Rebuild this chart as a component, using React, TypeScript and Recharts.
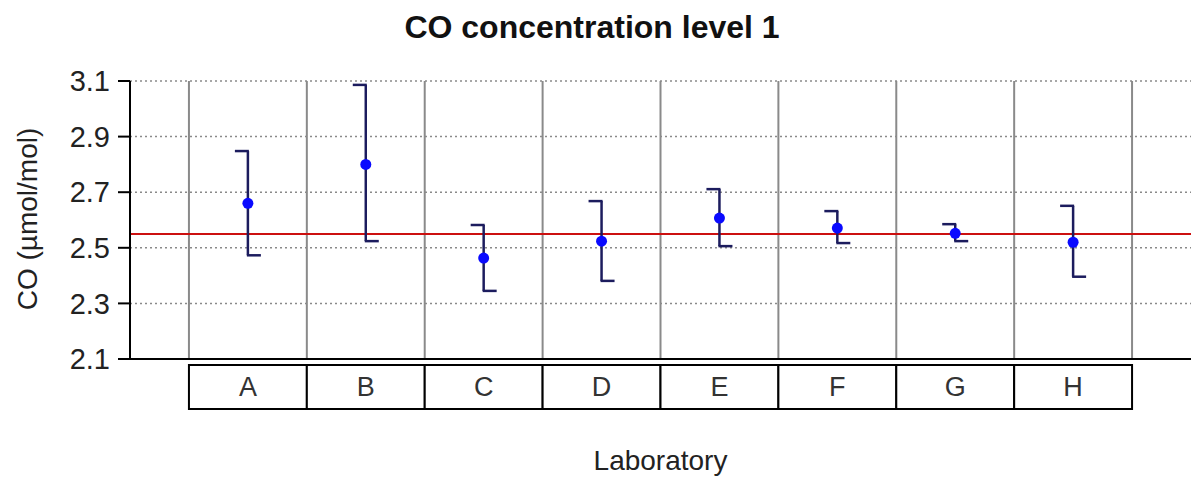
import React from 'react';
import { ComposedChart, Scatter, XAxis, YAxis, CartesianGrid, ReferenceLine, ErrorBar } from 'recharts';

// ---- data ----
const labs = ['A', 'B', 'C', 'D', 'E', 'F', 'G', 'H'];
const values = [2.66, 2.8, 2.463, 2.524, 2.607, 2.571, 2.552, 2.52];
const upper = [2.848, 3.086, 2.582, 2.668, 2.711, 2.632, 2.585, 2.651];
const lower = [2.473, 2.524, 2.345, 2.381, 2.506, 2.517, 2.524, 2.396];
const refValue = 2.55;
const yTicks = [2.1, 2.3, 2.5, 2.7, 2.9, 3.1];
const title = 'CO concentration level 1';
const xTitle = 'Laboratory';
const yTitle = 'CO (µmol/mol)';

// ---- layout ----
const W = 1191;
const H = 479;
const PLOT_LEFT = 130;
const X_MIN = 0;
const X_MAX = labs.length + 1;
const HALF = (W - PLOT_LEFT) / (X_MAX - X_MIN) / 2;
const FONT = '"Liberation Sans", Arial, sans-serif';

const xPositions = labs.map((_, i) => i + 1);
const dividers = labs.map((_, i) => i + 0.5).concat([labs.length + 0.5]);

const points = labs.map((lab, i) => ({
  x: i + 1,
  y: values[i],
  err: [values[i] - lower[i], upper[i] - values[i]],
  lab,
}));
const tops = labs.map((_, i) => ({ x: i + 1, y: upper[i] }));
const bottoms = labs.map((_, i) => ({ x: i + 1, y: lower[i] }));

const BAR_COLOR = '#1c1c5e';
const BAR_W = 2.5;

function BoxTick(props: any) {
  const { x, y, payload } = props;
  return (
    <g>
      <rect x={x - HALF} y={y + 6} width={2 * HALF} height={44} fill="#fff" stroke="#000" strokeWidth={2} />
      <text x={x} y={y + 28} textAnchor="middle" dominantBaseline="central" fontSize={27} fill="#333" fontFamily={FONT}>
        {labs[payload.value - 1]}
      </text>
    </g>
  );
}

const TopCap = (p: any) => (
  <line x1={p.cx - 13} x2={p.cx + 1} y1={p.cy} y2={p.cy} stroke={BAR_COLOR} strokeWidth={BAR_W} />
);
const BottomCap = (p: any) => (
  <line x1={p.cx - 1} x2={p.cx + 13} y1={p.cy} y2={p.cy} stroke={BAR_COLOR} strokeWidth={BAR_W} />
);
const Dot = (p: any) => <circle cx={p.cx} cy={p.cy} r={5.5} fill="#0a0aff" />;

export default function App() {
  return (
    <div style={{ position: 'absolute', left: 0, top: 0, width: W, height: H, background: '#fff', fontFamily: FONT }}>
      <div
        style={{
          position: 'absolute',
          left: 0,
          top: 11,
          width: 1184,
          textAlign: 'center',
          fontSize: 32,
          lineHeight: 1,
          fontWeight: 'bold',
          color: '#111',
        }}
      >
        {title}
      </div>
      <div
        style={{
          position: 'absolute',
          left: PLOT_LEFT,
          width: W - PLOT_LEFT,
          top: 447,
          textAlign: 'center',
          fontSize: 28,
          lineHeight: 1,
          color: '#222',
        }}
      >
        {xTitle}
      </div>
      <div
        style={{
          position: 'absolute',
          left: 28,
          top: 219,
          transform: 'translate(-50%, -50%) rotate(-90deg)',
          whiteSpace: 'nowrap',
          fontSize: 28,
          lineHeight: 1,
          color: '#222',
        }}
      >
        {yTitle}
      </div>
      <ComposedChart width={W} height={H} margin={{ top: 81, right: 0, bottom: 0, left: 0 }} style={{ position: 'absolute', left: 0, top: 0 }}>
        <CartesianGrid horizontal vertical={false} stroke="#8a8a8a" strokeDasharray="2 3" strokeWidth={1.5} />
        <XAxis
          dataKey="x"
          type="number"
          domain={[X_MIN, X_MAX]}
          ticks={xPositions}
          interval={0}
          allowDataOverflow
          tickLine={false}
          tickSize={0}
          tickMargin={0}
          height={120}
          axisLine={{ stroke: '#000', strokeWidth: 2 }}
          tick={<BoxTick />}
        />
        <YAxis
          dataKey="y"
          type="number"
          domain={[2.1, 3.1]}
          ticks={yTicks}
          interval={0}
          allowDataOverflow
          width={PLOT_LEFT}
          tickSize={12}
          tickMargin={8}
          tickLine={{ stroke: '#000', strokeWidth: 2 }}
          axisLine={{ stroke: '#000', strokeWidth: 2 }}
          tick={{ fontSize: 29, fill: '#222', fontFamily: FONT }}
          tickFormatter={(v: number) => v.toFixed(1)}
        />
        {dividers.map((d) => (
          <ReferenceLine key={d} x={d} stroke="#8a8a8a" strokeWidth={2} ifOverflow="extendDomain" />
        ))}
        <ReferenceLine y={refValue} stroke="#cc1010" strokeWidth={2} />
        <Scatter data={tops} shape={TopCap} isAnimationActive={false} />
        <Scatter data={bottoms} shape={BottomCap} isAnimationActive={false} />
        <Scatter data={points} shape={Dot} isAnimationActive={false}>
          <ErrorBar
            dataKey="err"
            direction="y"
            width={0}
            stroke={BAR_COLOR}
            strokeWidth={BAR_W}
            style={{ strokeWidth: BAR_W, stroke: BAR_COLOR }}
            isAnimationActive={false}
          />
        </Scatter>
      </ComposedChart>
    </div>
  );
}
